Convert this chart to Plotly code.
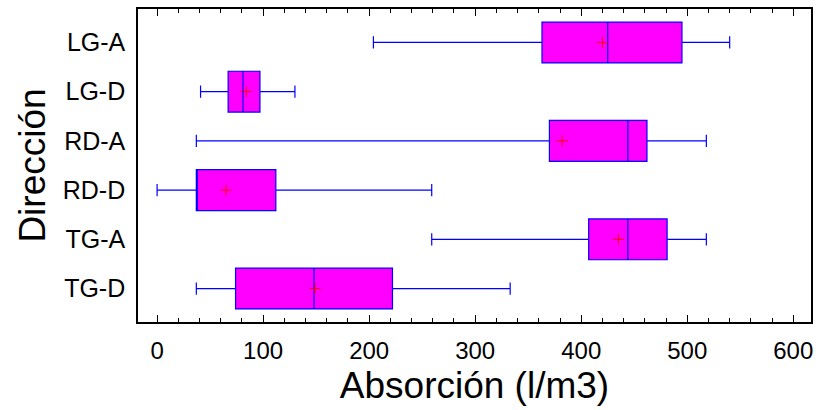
import plotly.graph_objects as go

categories = ["LG-A", "LG-D", "RD-A", "RD-D", "TG-A", "TG-D"]
lower_fence = [204, 41, 37, 0, 259, 37]
q1 = [363, 67, 370, 37, 407, 74]
median = [425, 81, 444, 37, 444, 148]
q3 = [495, 97, 462, 112, 481, 222]
upper_fence = [540, 130, 518, 259, 518, 333]
means = [420, 84, 382, 65, 435, 149]

FONT = "Liberation Sans, Arial, sans-serif"

fig = go.Figure()
fig.add_trace(go.Box(
    y=categories, q1=q1, median=median, q3=q3,
    lowerfence=lower_fence, upperfence=upper_fence,
    orientation="h", width=0.83, whiskerwidth=0.3,
    fillcolor="#FF00FF", line=dict(color="#0000FF", width=1.2),
    boxpoints=False, showlegend=False, hoverinfo="x",
))
fig.add_trace(go.Scatter(
    y=categories, x=means, mode="markers",
    marker=dict(symbol="cross-thin", size=8, line=dict(color="#FF0000", width=1)),
    showlegend=False,
))

fig.update_layout(
    width=820, height=410,
    margin=dict(l=137.5, r=6.5, t=8.5, b=87.5),
    paper_bgcolor="white", plot_bgcolor="white",
    font=dict(family=FONT, color="black"),
)
fig.update_xaxes(
    range=[-18, 616.7], tickvals=[0, 100, 200, 300, 400, 500, 600],
    ticks="inside", ticklen=7, tickwidth=1, tickcolor="black",
    minor=dict(dtick=20, ticks="inside", ticklen=4, tickcolor="black", tickwidth=1),
    showline=True, linecolor="black", linewidth=1.5, mirror="ticks",
    showgrid=False, zeroline=False,
    tickfont=dict(size=24, family=FONT),
    ticklabelstandoff=6,
    title=dict(text="Absorción (l/m3)", font=dict(size=37, family=FONT), standoff=10),
)
fig.update_yaxes(
    type="category", categoryorder="array", categoryarray=categories,
    range=[5.68, -0.68],
    ticks="", showline=True, linecolor="black", linewidth=1.5, mirror=True,
    showgrid=False, zeroline=False,
    tickfont=dict(size=25, family=FONT),
    ticklabelstandoff=6,
    title=dict(text="Dirección", font=dict(size=37, family=FONT), standoff=6),
)

fig.write_html("out.html")
